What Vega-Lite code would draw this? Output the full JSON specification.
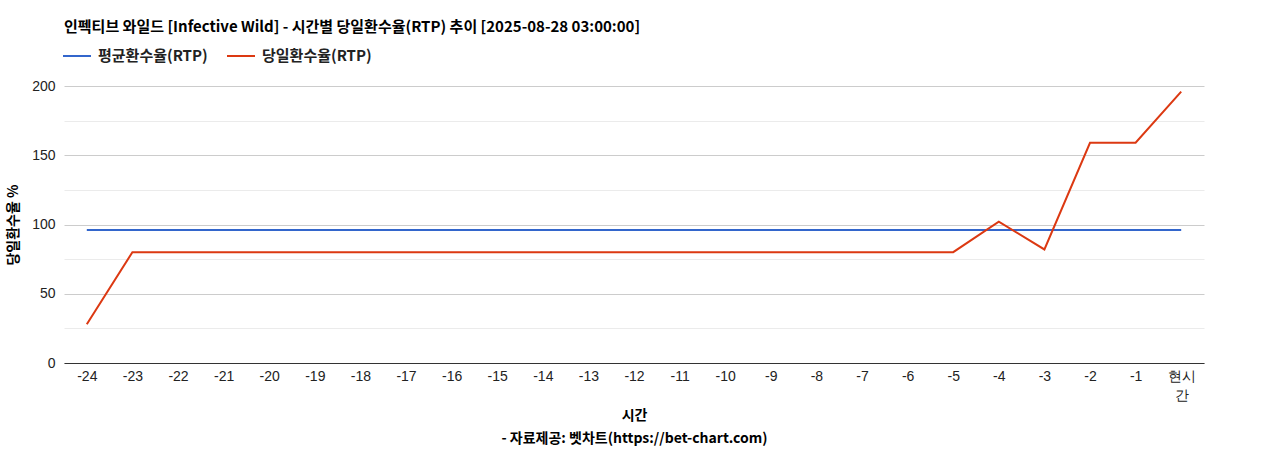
{
  "$schema": "https://vega.github.io/schema/vega-lite/v6.json",
  "autosize": "none",
  "width": 1140,
  "height": 277,
  "padding": {"left": 64, "top": 86, "right": 64, "bottom": 87},
  "background": "white",
  "config": {"view": {"stroke": null}},
  "title": {
    "text": "인펙티브 와일드 [Infective Wild] - 시간별 당일환수율(RTP) 추이 [2025-08-28 03:00:00]",
    "anchor": "start",
    "frame": "group",
    "font": "Noto Sans CJK KR",
    "fontSize": 15,
    "fontWeight": "bold",
    "color": "#000000",
    "offset": 6
  },
  "data": {
    "values": [
      {"time": "-24", "series": "평균환수율(RTP)", "rtp": 96},
      {"time": "-23", "series": "평균환수율(RTP)", "rtp": 96},
      {"time": "-22", "series": "평균환수율(RTP)", "rtp": 96},
      {"time": "-21", "series": "평균환수율(RTP)", "rtp": 96},
      {"time": "-20", "series": "평균환수율(RTP)", "rtp": 96},
      {"time": "-19", "series": "평균환수율(RTP)", "rtp": 96},
      {"time": "-18", "series": "평균환수율(RTP)", "rtp": 96},
      {"time": "-17", "series": "평균환수율(RTP)", "rtp": 96},
      {"time": "-16", "series": "평균환수율(RTP)", "rtp": 96},
      {"time": "-15", "series": "평균환수율(RTP)", "rtp": 96},
      {"time": "-14", "series": "평균환수율(RTP)", "rtp": 96},
      {"time": "-13", "series": "평균환수율(RTP)", "rtp": 96},
      {"time": "-12", "series": "평균환수율(RTP)", "rtp": 96},
      {"time": "-11", "series": "평균환수율(RTP)", "rtp": 96},
      {"time": "-10", "series": "평균환수율(RTP)", "rtp": 96},
      {"time": "-9", "series": "평균환수율(RTP)", "rtp": 96},
      {"time": "-8", "series": "평균환수율(RTP)", "rtp": 96},
      {"time": "-7", "series": "평균환수율(RTP)", "rtp": 96},
      {"time": "-6", "series": "평균환수율(RTP)", "rtp": 96},
      {"time": "-5", "series": "평균환수율(RTP)", "rtp": 96},
      {"time": "-4", "series": "평균환수율(RTP)", "rtp": 96},
      {"time": "-3", "series": "평균환수율(RTP)", "rtp": 96},
      {"time": "-2", "series": "평균환수율(RTP)", "rtp": 96},
      {"time": "-1", "series": "평균환수율(RTP)", "rtp": 96},
      {"time": "현시간", "series": "평균환수율(RTP)", "rtp": 96},
      {"time": "-24", "series": "당일환수율(RTP)", "rtp": 28},
      {"time": "-23", "series": "당일환수율(RTP)", "rtp": 80},
      {"time": "-22", "series": "당일환수율(RTP)", "rtp": 80},
      {"time": "-21", "series": "당일환수율(RTP)", "rtp": 80},
      {"time": "-20", "series": "당일환수율(RTP)", "rtp": 80},
      {"time": "-19", "series": "당일환수율(RTP)", "rtp": 80},
      {"time": "-18", "series": "당일환수율(RTP)", "rtp": 80},
      {"time": "-17", "series": "당일환수율(RTP)", "rtp": 80},
      {"time": "-16", "series": "당일환수율(RTP)", "rtp": 80},
      {"time": "-15", "series": "당일환수율(RTP)", "rtp": 80},
      {"time": "-14", "series": "당일환수율(RTP)", "rtp": 80},
      {"time": "-13", "series": "당일환수율(RTP)", "rtp": 80},
      {"time": "-12", "series": "당일환수율(RTP)", "rtp": 80},
      {"time": "-11", "series": "당일환수율(RTP)", "rtp": 80},
      {"time": "-10", "series": "당일환수율(RTP)", "rtp": 80},
      {"time": "-9", "series": "당일환수율(RTP)", "rtp": 80},
      {"time": "-8", "series": "당일환수율(RTP)", "rtp": 80},
      {"time": "-7", "series": "당일환수율(RTP)", "rtp": 80},
      {"time": "-6", "series": "당일환수율(RTP)", "rtp": 80},
      {"time": "-5", "series": "당일환수율(RTP)", "rtp": 80},
      {"time": "-4", "series": "당일환수율(RTP)", "rtp": 102},
      {"time": "-3", "series": "당일환수율(RTP)", "rtp": 82},
      {"time": "-2", "series": "당일환수율(RTP)", "rtp": 159},
      {"time": "-1", "series": "당일환수율(RTP)", "rtp": 159},
      {"time": "현시간", "series": "당일환수율(RTP)", "rtp": 196}
    ]
  },
  "mark": {"type": "line", "strokeWidth": 2},
  "encoding": {
    "x": {
      "field": "time",
      "type": "ordinal",
      "sort": ["-24","-23","-22","-21","-20","-19","-18","-17","-16","-15","-14","-13","-12","-11","-10","-9","-8","-7","-6","-5","-4","-3","-2","-1","현시간"],
      "scale": {"type": "point", "padding": 0.5},
      "axis": {
        "title": ["시간", "- 자료제공: 벳차트(https://bet-chart.com)"],
        "titleFont": "Noto Sans CJK KR",
        "titleFontSize": 14,
        "titleFontWeight": "bold",
        "titleColor": "#000000",
        "titleLineHeight": 23,
        "titlePadding": 6,
        "labelAngle": 0,
        "labelFont": "Liberation Sans",
        "labelFontSize": 14,
        "labelColor": "#222222",
        "labelPadding": 6,
        "labelLineHeight": 19,
        "labelExpr": "datum.label == '현시간' ? ['현시', '간'] : datum.label",
        "ticks": false,
        "grid": false,
        "domainColor": "#333333",
        "domainWidth": 1
      }
    },
    "y": {
      "field": "rtp",
      "type": "quantitative",
      "scale": {"domain": [0, 200], "nice": false},
      "axis": {
        "title": "당일환수율 %",
        "titleFont": "Noto Sans CJK KR",
        "titleFontSize": 14,
        "titleFontWeight": "bold",
        "titleColor": "#000000",
        "titlePadding": 11,
        "values": [0, 25, 50, 75, 100, 125, 150, 175, 200],
        "labelExpr": "datum.value % 50 == 0 ? datum.label : ''",
        "labelFont": "Liberation Sans",
        "labelFontSize": 14,
        "labelColor": "#222222",
        "labelPadding": 9,
        "ticks": false,
        "domain": false,
        "grid": true,
        "gridColor": {"condition": {"test": "datum.value % 50 == 0", "value": "#cccccc"}, "value": "#ebebeb"},
        "gridWidth": 1
      }
    },
    "color": {
      "field": "series",
      "type": "nominal",
      "scale": {"domain": ["평균환수율(RTP)", "당일환수율(RTP)"], "range": ["#3366cc", "#dc3912"]},
      "legend": {
        "title": null,
        "orient": "none",
        "legendX": -2,
        "legendY": -45,
        "direction": "horizontal",
        "symbolType": "stroke",
        "symbolSize": 784,
        "symbolStrokeWidth": 2,
        "labelFont": "Noto Sans CJK KR",
        "labelFontSize": 15,
        "labelFontWeight": "bold",
        "labelColor": "#222222",
        "labelOffset": 6,
        "columnPadding": 15
      }
    }
  }
}
